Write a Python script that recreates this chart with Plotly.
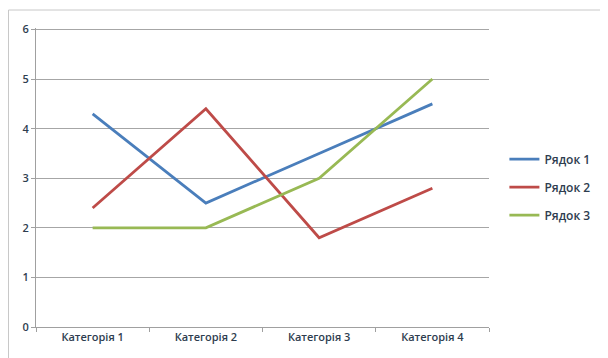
import plotly.graph_objects as go

# Дані діаграми
categories = ['Категорія 1', 'Категорія 2', 'Категорія 3', 'Категорія 4']
series_names = ['Рядок 1', 'Рядок 2', 'Рядок 3']
row1 = [4.3, 2.5, 3.5, 4.5]
row2 = [2.4, 4.4, 1.8, 2.8]
row3 = [2, 2, 3, 5]
y_ticks = [0, 1, 2, 3, 4, 5, 6]

colors = ['#4A7EBB', '#BE4B48', '#98B954']
font_color = '#2E3D4F'

fig = go.Figure()

for name, values, color in zip(series_names, [row1, row2, row3], colors):
    fig.add_trace(go.Scatter(
        x=categories,
        y=values,
        mode='lines',
        name=name,
        legendgroup=name,
        line=dict(color=color, width=2.8)
    ))

# сторінка має відступ 8px, тому поля зсунуті
fig.update_layout(
    width=608,
    height=358,
    margin=dict(l=28, r=127, t=20, b=39),
    paper_bgcolor='white',
    plot_bgcolor='white',
    font=dict(family='Open Sans', size=11, color=font_color, weight=600),
    showlegend=True,
    legend=dict(
        x=1.034,
        y=0.468,
        xanchor='left',
        yanchor='middle',
        tracegroupgap=9,
        itemwidth=30,
        font=dict(size=12, color=font_color, weight=600)
    ),
    xaxis=dict(
        type='category',
        range=[-0.5, 3.5],
        showgrid=False,
        showline=True,
        linecolor='#A0A0A0',
        linewidth=1,
        ticks='outside',
        tickson='boundaries',
        ticklen=4,
        tickcolor='#A0A0A0',
        tickfont=dict(size=11, color=font_color, weight=600),
        fixedrange=True
    ),
    yaxis=dict(
        range=[0, 6.03],
        tickvals=y_ticks,
        showgrid=True,
        gridcolor='#A6A6A6',
        gridwidth=1,
        showline=True,
        linecolor='#A0A0A0',
        linewidth=1,
        ticks='outside',
        ticklen=4,
        tickcolor='#A0A0A0',
        tickfont=dict(size=11, color=font_color, weight=600),
        zeroline=False,
        fixedrange=True
    )
)

# Рамка навколо всієї діаграми
fig.add_shape(
    type='rect',
    xref='paper', yref='paper',
    x0=-27.5 / 453, x1=571 / 453,
    y0=-38 / 299, y1=317 / 299,
    line=dict(color='#C8C8C8', width=1),
    fillcolor='rgba(0,0,0,0)',
    layer='below'
)

fig.write_html("out.html")
